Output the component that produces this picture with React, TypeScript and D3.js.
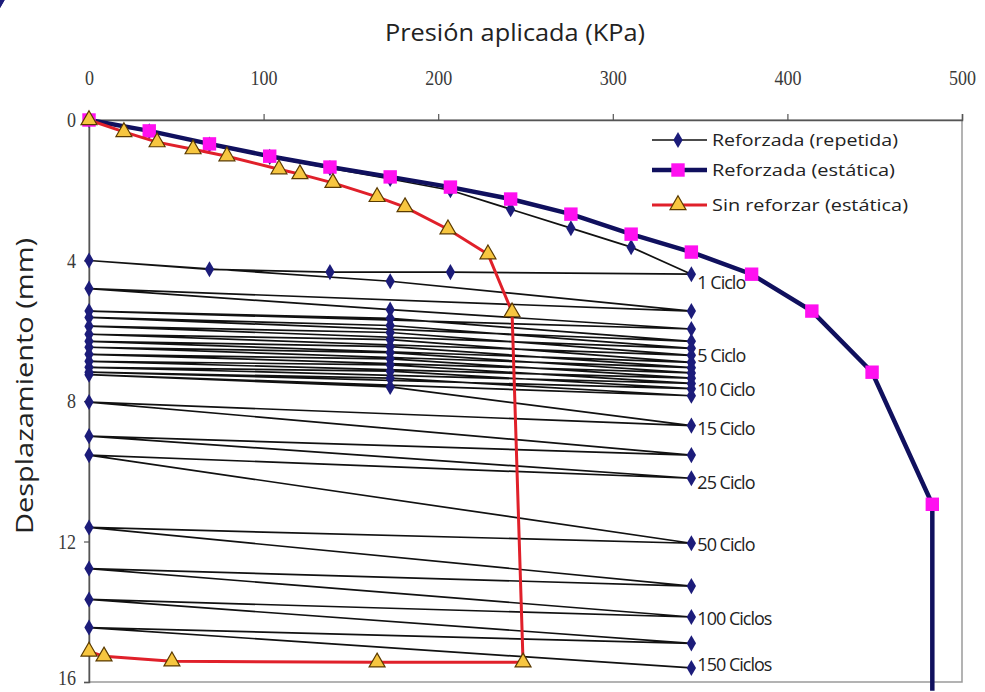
import * as d3 from 'd3';
import React, { useEffect, useRef } from 'react';

// Reforzada (estática): presión (kPa), desplazamiento (mm)
const staticReinfP = [0, 34.5, 69, 103.5, 138, 172.5, 207, 241.5, 276, 310.5, 345, 379.5, 414, 448.5, 483, 483];
const staticReinfD = [0, 0.31, 0.68, 1.03, 1.34, 1.62, 1.91, 2.25, 2.68, 3.25, 3.76, 4.39, 5.44, 7.18, 10.94, 16.25];

// Sin reforzar (estática)
const unreinfP = [0, 20, 39, 59.6, 79, 108.8, 120.8, 139.7, 165, 181, 205.6, 228.5, 242.3, 248.6, 165, 47.5, 8.6, 0];
const unreinfD = [0, 0.34, 0.63, 0.83, 1.03, 1.4, 1.54, 1.79, 2.19, 2.48, 3.11, 3.82, 5.47, 15.44, 15.44, 15.41, 15.27, 15.13];

// Reforzada (repetida): carga inicial, descarga por escalones y ciclos de recarga
const repP = [
    0, 34.5, 69, 103.5, 138, 172.5, 207, 241.5, 276, 310.5, 345,
    207, 138, 69, 0,
    172.5, 345, 0, 172.5, 345, 0, 172.5, 345, 0, 172.5, 345, 0, 172.5, 345, 0, 172.5, 345,
    0, 172.5, 345, 0, 172.5, 345, 0, 172.5, 345, 0, 172.5, 345, 0, 172.5, 345, 0, 172.5, 345,
    0, 172.5, 345,
    0, 345, 0, 345, 0, 345, 0, 345, 0, 345, 0, 345, 0, 345, 0, 345
];
const repD = [
    0, 0.32, 0.7, 1.05, 1.37, 1.68, 2.0, 2.54, 3.08, 3.62, 4.39,
    4.33, 4.33, 4.25, 4.0,
    4.59, 5.44, 4.8, 5.4, 5.95, 5.44, 5.65, 6.3, 5.62, 5.85, 6.5, 5.87, 6.05, 6.7, 6.1, 6.25, 6.9,
    6.3, 6.45, 7.05, 6.47, 6.62, 7.2, 6.67, 6.8, 7.35, 6.87, 6.97, 7.5, 7.04, 7.15, 7.65, 7.18, 7.35, 7.85,
    7.25, 7.6, 8.7,
    8.03, 9.54, 9.0, 10.2, 9.54, 12.05, 11.6, 13.27, 12.77, 14.15, 13.65, 14.9, 14.45, 15.6
];

const cycleLabels = ['1 Ciclo', '5 Ciclo', '10 Ciclo', '15 Ciclo', '25 Ciclo', '50 Ciclo', '100 Ciclos', '150 Ciclos'];
const cycleLabelD = [4.64, 6.72, 7.69, 8.8, 10.34, 12.1, 14.2, 15.5];

const xTicks = [0, 100, 200, 300, 400, 500];
const yTicks = [0, 4, 8, 12, 16];

const legendNames = ['Reforzada (repetida)', 'Reforzada (estática)', 'Sin reforzar (estática)'];

const NAVY = '#10105e';
const DIAMOND = '#1c1c7a';
const MAGENTA = '#ff10f0';
const RED = '#e0202a';
const TRI = '#f7c640';

const App: React.FC = () => {
    const svgRef = useRef<SVGSVGElement>(null);

    useEffect(() => {
        if (!svgRef.current) return;
        d3.select(svgRef.current).selectAll('*').remove();

        const width = 985;
        const height = 692;
        const svg = d3.select(svgRef.current).attr('width', width).attr('height', height);

        const x = d3.scaleLinear().domain([0, 500]).range([89, 962]);
        const y = d3.scaleLinear().domain([0, 16]).range([120, 682]);

        svg.append('rect').attr('width', width).attr('height', height).attr('fill', '#fff');

        // plot frame
        svg.append('rect')
            .attr('x', x(0)).attr('y', y(0))
            .attr('width', x(500) - x(0)).attr('height', y(16) - y(0))
            .attr('fill', 'none').attr('stroke', '#9a9a9a').attr('stroke-width', 1.5);

        // condensed tick numerals
        const styleTicks = (g: d3.Selection<SVGGElement, unknown, null, undefined>) => {
            g.attr('font-size', null).attr('font-family', null);
            g.select('.domain').attr('stroke', '#555').attr('stroke-width', 1.5);
            g.selectAll('.tick line').attr('stroke', '#555').attr('stroke-width', 1.2);
            g.selectAll<SVGTextElement, number>('.tick text')
                .attr('font-family', 'Liberation Serif, serif').attr('font-size', 21)
                .attr('textLength', (d) => String(d).length * 9)
                .attr('lengthAdjust', 'spacingAndGlyphs')
                .attr('fill', '#3a3a3a');
        };

        // top axis
        const xAxis = d3.axisTop(x).tickValues(xTicks).tickSize(6).tickPadding(29).tickFormat(d3.format('d'));
        svg.append('g').attr('transform', `translate(0,${y(0)})`).call(xAxis).call(styleTicks);

        // left axis
        const yAxis = d3.axisLeft(y).tickValues(yTicks).tickSize(5).tickPadding(8).tickFormat(d3.format('d'));
        const gy = svg.append('g').attr('transform', `translate(${x(0)},0)`).call(yAxis).call(styleTicks);
        // keep the bottom label inside the picture
        gy.selectAll<SVGTextElement, number>('.tick text').filter((d) => d === 16).attr('dy', '0.1em');

        // titles
        svg.append('text')
            .attr('x', 515).attr('y', 41)
            .attr('text-anchor', 'middle')
            .attr('font-family', 'Open Sans, sans-serif').attr('font-size', 24)
            .attr('textLength', 260).attr('lengthAdjust', 'spacingAndGlyphs')
            .attr('fill', '#222')
            .text('Presión aplicada (KPa)');

        svg.append('text')
            .attr('transform', 'translate(33,386) rotate(-90)')
            .attr('text-anchor', 'middle')
            .attr('font-family', 'Open Sans, sans-serif').attr('font-size', 24)
            .attr('textLength', 296).attr('lengthAdjust', 'spacingAndGlyphs')
            .attr('fill', '#222')
            .text('Desplazamiento (mm)');

        const line = d3.line<[number, number]>().x((d) => x(d[0])).y((d) => y(d[1]));

        const diamond = d3.symbol().type(d3.symbolDiamond).size(75);
        const square = d3.symbol().type(d3.symbolSquare).size(180);
        const triangle = d3.symbol().type(d3.symbolTriangle).size(110);

        // cycle labels
        svg.selectAll('text.cyc')
            .data(cycleLabels)
            .join('text')
            .attr('class', 'cyc')
            .attr('x', x(345) + 6)
            .attr('y', (_, i) => y(cycleLabelD[i]))
            .attr('dy', '0.35em')
            .attr('font-family', 'Open Sans, sans-serif').attr('font-size', 18)
            .attr('letter-spacing', -1)
            .attr('fill', '#222')
            .text((d) => d);

        // Reforzada (repetida)
        const repData: [number, number][] = repP.map((p, i) => [p, repD[i]]);
        svg.append('path').attr('d', line(repData)).attr('fill', 'none')
            .attr('stroke', '#111').attr('stroke-width', 1.7);
        svg.selectAll('path.dia').data(repData).join('path').attr('class', 'dia')
            .attr('transform', (d) => `translate(${x(d[0])},${y(d[1])})`)
            .attr('d', diamond).attr('fill', DIAMOND);

        // Reforzada (estática)
        const stData: [number, number][] = staticReinfP.map((p, i) => [p, staticReinfD[i]]);
        svg.append('path').attr('d', line(stData)).attr('fill', 'none')
            .attr('stroke', NAVY).attr('stroke-width', 4.5);
        svg.selectAll('path.sq').data(stData.slice(0, -1)).join('path').attr('class', 'sq')
            .attr('transform', (d) => `translate(${x(d[0])},${y(d[1])})`)
            .attr('d', square).attr('fill', MAGENTA);

        // Sin reforzar (estática)
        const unData: [number, number][] = unreinfP.map((p, i) => [p, unreinfD[i]]);
        svg.append('path').attr('d', line(unData)).attr('fill', 'none')
            .attr('stroke', RED).attr('stroke-width', 3);
        svg.selectAll('path.tri').data(unData).join('path').attr('class', 'tri')
            .attr('transform', (d) => `translate(${x(d[0])},${y(d[1])})`)
            .attr('d', triangle).attr('fill', TRI).attr('stroke', '#5a3a00').attr('stroke-width', 1.2);

        // legend
        const legRowY = [140, 170, 205];
        const legW = [186, 183, 196];
        const lg = svg.append('g');
        legendNames.forEach((name, i) => {
            const ly = legRowY[i];
            const stroke = i === 0 ? '#111' : i === 1 ? NAVY : RED;
            const sw = i === 0 ? 1.7 : i === 1 ? 4.5 : 3;
            lg.append('line').attr('x1', 652).attr('x2', 707).attr('y1', ly).attr('y2', ly)
                .attr('stroke', stroke).attr('stroke-width', sw);
            const sym = i === 0 ? diamond : i === 1 ? square : triangle;
            const m = lg.append('path').attr('transform', `translate(678,${ly})`).attr('d', sym)
                .attr('fill', i === 0 ? DIAMOND : i === 1 ? MAGENTA : TRI);
            if (i === 2) m.attr('stroke', '#5a3a00').attr('stroke-width', 1.2);
            lg.append('text').attr('x', 712).attr('y', ly).attr('dy', '0.35em')
                .attr('font-family', 'Open Sans, sans-serif').attr('font-size', 17)
                .attr('textLength', legW[i]).attr('lengthAdjust', 'spacingAndGlyphs')
                .attr('fill', '#222')
                .text(name);
        });
    }, []);

    return (
        <div>
            <style>{`body { margin: 0; }`}</style>
            <svg ref={svgRef} style={{ display: 'block' }}></svg>
        </div>
    );
};

export default App;
